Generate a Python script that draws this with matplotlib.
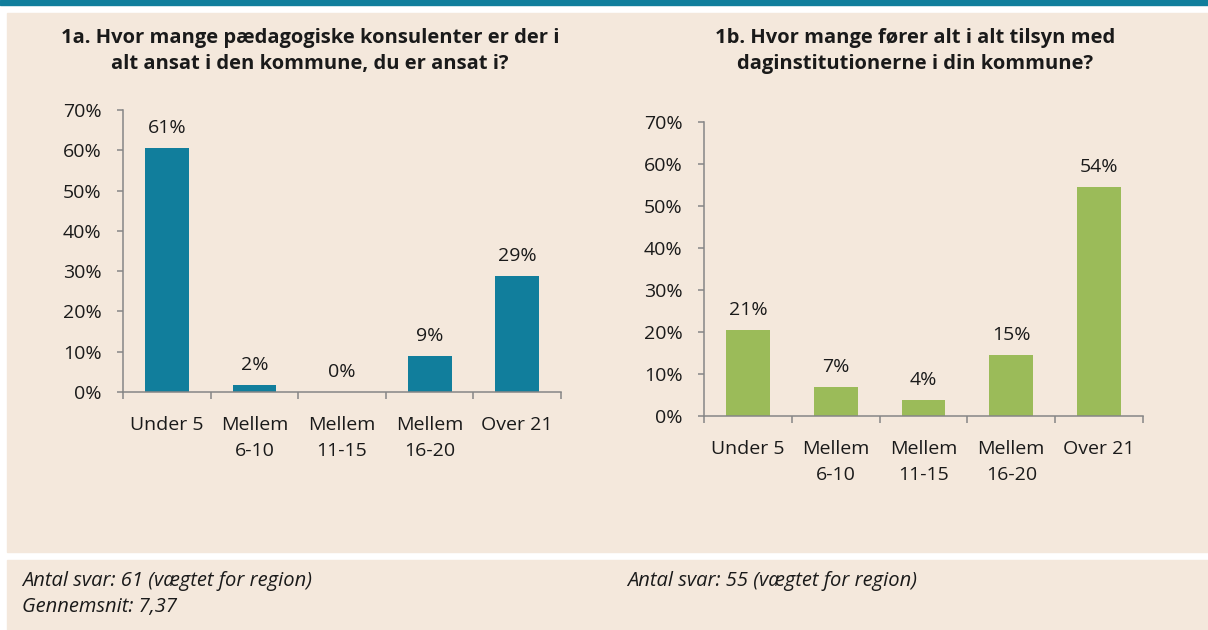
import matplotlib
matplotlib.use("Agg")
import matplotlib.pyplot as plt
from matplotlib.patches import Rectangle
from matplotlib.ticker import PercentFormatter

# data
categories = ["Under 5", "Mellem\n6-10", "Mellem\n11-15", "Mellem\n16-20", "Over 21"]
konsulenter = [60.66, 1.64, 0.0, 9.02, 28.69]
tilsyn = [20.5, 6.8, 3.7, 14.5, 54.5]
labels_a = ["61%", "2%", "0%", "9%", "29%"]
labels_b = ["21%", "7%", "4%", "15%", "54%"]

title_a = "1a. Hvor mange pædagogiske konsulenter er der i\nalt ansat i den kommune, du er ansat i?"
title_b = "1b. Hvor mange fører alt i alt tilsyn med\ndaginstitutionerne i din kommune?"
note_a = "Antal svar: 61 (vægtet for region)\nGennemsnit: 7,37"
note_b = "Antal svar: 55 (vægtet for region)"

BEIGE = "#F4E8DC"
TEAL = "#117E9C"
GREEN = "#9BBB59"
AXIS = "#868686"

plt.rcParams['font.family'] = ['Open Sans', 'DejaVu Sans']

W, H = 1208, 630
fig = plt.figure(figsize=(W / 100, H / 100), dpi=100)
fig.patch.set_facecolor("white")


def px_rect(x0, y0, x1, y1, color):
    # rectangle in pixel coords (y from top), kept behind the axes
    fig.patches.append(Rectangle((x0 / W, 1 - y1 / H), (x1 - x0) / W, (y1 - y0) / H,
                                 transform=fig.transFigure, color=color, zorder=-5))


# background panels
px_rect(0, 0, W, 5, TEAL)
px_rect(7, 13, W, 552, BEIGE)
px_rect(7, 560, W, H, BEIGE)


def draw_chart(rect, values, labels, color, title, title_x):
    ax = fig.add_axes(rect)
    ax.set_facecolor("none")
    x = range(len(values))
    bars = ax.bar(x, values, width=0.5, color=color, zorder=2)
    for b, lab in zip(bars, labels):
        ax.annotate(lab, (b.get_x() + b.get_width() / 2, b.get_height()),
                    xytext=(0, 8), textcoords="offset points",
                    ha="center", va="bottom", fontsize=14, color="#1a1a1a")
    ax.set_xlim(-0.5, len(values) - 0.5)
    ax.set_ylim(0, 70)
    ax.set_yticks(range(0, 71, 10))
    ax.yaxis.set_major_formatter(PercentFormatter(decimals=0))
    ax.set_xticks(list(x))
    ax.set_xticklabels(categories, linespacing=1.6)
    ax.set_xticks([i - 0.5 for i in range(len(values) + 1)], minor=True)
    ax.tick_params(axis="x", which="major", length=0, pad=17, labelsize=14, colors="#1a1a1a")
    ax.tick_params(axis="x", which="minor", length=5, width=1.1, color=AXIS, direction="out")
    ax.tick_params(axis="y", length=4.5, width=1.1, color=AXIS, pad=11, labelsize=14,
                   labelcolor="#1a1a1a")
    for s in ["top", "right"]:
        ax.spines[s].set_visible(False)
    for s in ["left", "bottom"]:
        ax.spines[s].set_color(AXIS)
        ax.spines[s].set_linewidth(1.1)
    fig.text(title_x / W, 1 - 51 / H, title, ha="center", va="center",
             fontsize=14.5, fontweight="bold", linespacing=1.35, color="#1a1a1a")
    return ax


draw_chart([123 / W, 1 - 392 / H, (561 - 123) / W, (392 - 110) / H],
           konsulenter, labels_a, TEAL, title_a, 310)
draw_chart([704 / W, 1 - 416 / H, (1143 - 704) / W, (416 - 122) / H],
           tilsyn, labels_b, GREEN, title_b, 915)

fig.text(22 / W, 1 - 594 / H, note_a, ha="left", va="center", fontsize=14.5,
         style="italic", linespacing=1.4, color="#1a1a1a")
fig.text(627 / W, 1 - 581 / H, note_b, ha="left", va="center", fontsize=14.5,
         style="italic", color="#1a1a1a")

fig.savefig("out.png", dpi=100, facecolor=fig.get_facecolor())
